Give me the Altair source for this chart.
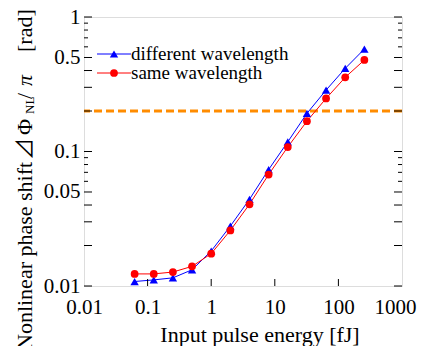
import altair as alt
import pandas as pd

# ---- data ----
energy = [0.0625, 0.125, 0.25, 0.5, 1, 2, 4, 8, 16, 32, 64, 128, 256]
diff_wl = [0.0108, 0.0111, 0.0115, 0.0132, 0.0182, 0.0279, 0.0441, 0.0734, 0.118, 0.192, 0.286, 0.415, 0.578]
same_wl = [0.0123, 0.0123, 0.0127, 0.0140, 0.0174, 0.0259, 0.0405, 0.0674, 0.108, 0.168, 0.248, 0.356, 0.479]
threshold = [0.2]

x_labels = [0.01, 0.1, 1, 10, 100, 1000]
y_labels = [0.01, 0.05, 0.1, 0.5, 1]
y_long_ticks = [0.01, 0.02, 0.03, 0.04, 0.05, 0.1, 0.2, 0.3, 0.4, 0.5, 1]
y_short_ticks = [0.06, 0.07, 0.08, 0.09, 0.6, 0.7, 0.8, 0.9]
x_ticks = [0.1, 1, 10, 100]

legend_names = ["different wavelength", "same wavelength"]

W, H = 318, 269
SERIF = "Liberation Serif, Times New Roman, DejaVu Serif, serif"
BLUE = "#0000FF"
RED = "#FF0000"
ORANGE = "#FF8C00"

xs = alt.Scale(type="log", domain=[0.01, 1000], nice=False)
ys = alt.Scale(type="log", domain=[0.01, 1], nice=False)

df_diff = pd.DataFrame({"E": energy, "v": diff_wl})
df_same = pd.DataFrame({"E": energy, "v": same_wl})
df_thr = pd.DataFrame({"v": threshold})

x_axis = alt.Axis(values=x_labels, labelExpr="datum.value", grid=False, ticks=False,
                  domain=False, labelFont=SERIF, labelFontSize=21, labelColor="black",
                  labelPadding=10, labelFlush=False, labelOverlap=False,
                  labelAlign=alt.ConditionalAxisLabelAlign(
                      condition={"test": "datum.value >= 1000", "value": "right"}, value="center"),
                  labelOffset=alt.ConditionalAxisNumber(
                      condition={"test": "datum.value >= 1000", "value": 14}, value=0),
                  title="Input pulse energy [fJ]", titleFont=SERIF, titleFontSize=22,
                  titleFontWeight="normal", titleColor="black", titleX=175.5, titleY=55,
                  titleAlign="center", titleBaseline="alphabetic")
y_axis = alt.Axis(values=y_labels, labelExpr="datum.value", grid=False, ticks=False,
                  domain=False, labelFont=SERIF, labelFontSize=21, labelColor="black",
                  labelPadding=4, labelFlush=False, labelOverlap=False, title=None)

thr = alt.Chart(df_thr).mark_rule(color=ORANGE, strokeWidth=3, strokeDash=[8, 4]).encode(
    y=alt.Y("v:Q", scale=ys, axis=y_axis))

line_diff = alt.Chart(df_diff).mark_line(color=BLUE, strokeWidth=1).encode(
    x=alt.X("E:Q", scale=xs, axis=x_axis), y=alt.Y("v:Q", scale=ys))
pts_diff = alt.Chart(df_diff).mark_point(shape="triangle-up", filled=True, color=BLUE,
                                         size=70, opacity=1).encode(
    x=alt.X("E:Q", scale=xs), y=alt.Y("v:Q", scale=ys))
line_same = alt.Chart(df_same).mark_line(color=RED, strokeWidth=1).encode(
    x=alt.X("E:Q", scale=xs), y=alt.Y("v:Q", scale=ys))
pts_same = alt.Chart(df_same).mark_point(shape="circle", filled=True, color=RED,
                                         size=60, opacity=1).encode(
    x=alt.X("E:Q", scale=xs), y=alt.Y("v:Q", scale=ys))

# inward ticks
df_yl = pd.DataFrame({"v": y_long_ticks})
df_ysh = pd.DataFrame({"v": y_short_ticks})
df_xt = pd.DataFrame({"E": x_ticks})
tick_layers = []
for d, ln in ((df_yl, 8), (df_ysh, 4)):
    tick_layers.append(alt.Chart(d).mark_rule(color="black", strokeWidth=1).encode(
        y=alt.Y("v:Q", scale=ys), x=alt.value(0), x2=alt.value(ln)))
    tick_layers.append(alt.Chart(d).mark_rule(color="black", strokeWidth=1).encode(
        y=alt.Y("v:Q", scale=ys), x=alt.value(W - ln), x2=alt.value(W)))
tick_layers.append(alt.Chart(df_xt).mark_rule(color="black", strokeWidth=1).encode(
    x=alt.X("E:Q", scale=xs), y=alt.value(H - 7), y2=alt.value(H)))

one = alt.Data(values=[{}])

def txt(s, x, y, size=22, font=SERIF, angle=0, align="left", baseline="alphabetic", style="normal"):
    return alt.Chart(one).mark_text(text=s, font=font, fontSize=size, angle=angle, align=align,
                                    baseline=baseline, color="black", fontStyle=style).encode(
        x=alt.value(x), y=alt.value(y))

# legend
leg = []
for i, (col, shp, sz) in enumerate(((BLUE, "triangle-up", 70), (RED, "circle", 60))):
    ly = 37 + i * 19
    leg.append(alt.Chart(one).mark_rule(color=col, strokeWidth=1).encode(
        x=alt.value(13), x2=alt.value(47), y=alt.value(ly)))
    leg.append(alt.Chart(one).mark_point(shape=shp, filled=True, color=col, size=sz, opacity=1).encode(
        x=alt.value(30), y=alt.value(ly)))
    leg.append(txt(legend_names[i], 47, ly, size=19, baseline="middle"))

# y-axis title pieces (rotated)
BX = -52.3
ytitle = [
    txt("Nonlinear phase shift", BX, 333, angle=270),
    txt("\u22bf", BX, 143, font="Noto Sans CJK JP", angle=270),
    txt("\u03a6", BX, 118, angle=270),
    txt("NL", BX + 2, 97, size=13, angle=270),
    txt("/", BX, 82, angle=270),
    txt("\u03c0", BX, 69, angle=270, style="italic"),
    txt("[rad]", BX, 35, angle=270),
]

chart = alt.layer(thr, line_diff, line_same, pts_diff, pts_same, *tick_layers, *leg, *ytitle).properties(
    width=W, height=H,
    autosize=alt.AutoSizeParams(type="none"),
    padding={"left": 76, "top": 9, "right": 15, "bottom": 60},
).configure_view(stroke="black", strokeWidth=1).configure(background="white")

chart.save("out.html", embed_options={"renderer": "svg", "actions": False})
